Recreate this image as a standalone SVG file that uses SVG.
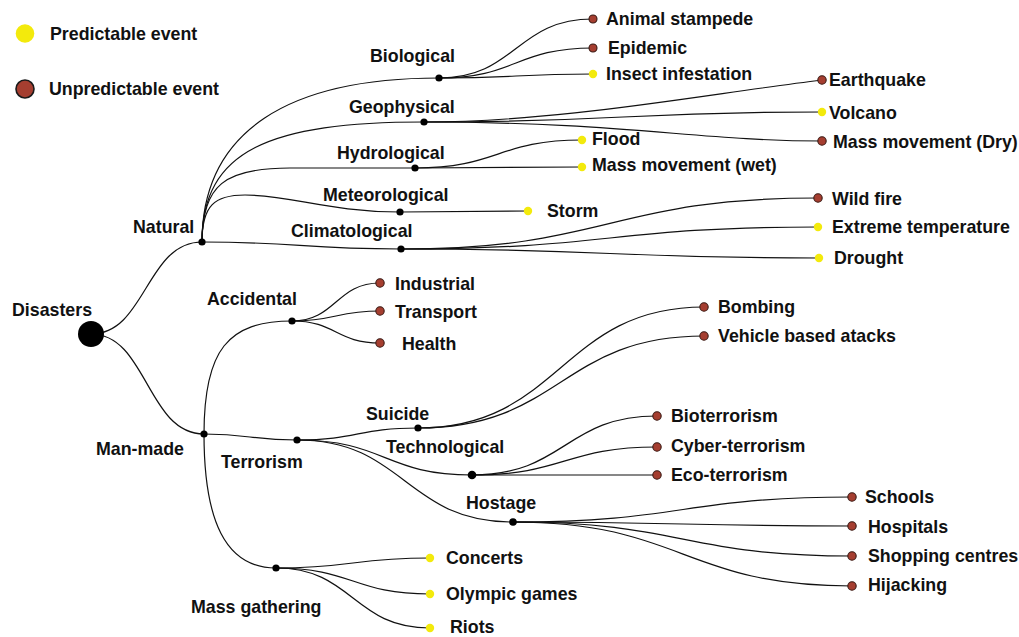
<svg xmlns="http://www.w3.org/2000/svg" width="1019" height="637" viewBox="0 0 1019 637">
<style>
.t{font-family:"Liberation Sans",Arial,sans-serif;font-weight:bold;font-size:17.8px;fill:#111}
.c{fill:none;stroke:#111;stroke-width:1.2}
.n{fill:#000}
.u{fill:#a53e30;stroke:#3a1a14;stroke-width:1.1}
.p{fill:#f3ea0c}
</style>
<rect width="1019" height="637" fill="#fff"/>
<g id="legend">
<circle cx="25" cy="33.5" r="9.3" class="p"/>
<text class="t" x="50" y="39.5">Predictable event</text>
<circle cx="25" cy="89" r="9" fill="#a53e30" stroke="#1a1a1a" stroke-width="1.6"/>
<text class="t" x="49" y="95">Unpredictable event</text>
</g>
<g id="connectors">
<path class="c" d="M91,334 C146,334 146,242 202,242"/>
<path class="c" d="M91,334 C147,334 147,434 204,434"/>
<path class="c" d="M202,242 C202,130 290,78 439,78"/>
<path class="c" d="M202,242 C202,150 270,122 424,122"/>
<path class="c" d="M202,242 C202,185 225,168 290,168 L415,168"/>
<path class="c" d="M202,242 C202,205 215,195 245,195 C290,195 330,212 400,212"/>
<path class="c" d="M202,242 C300,242 300,249 401,249"/>
<path class="c" d="M439,78 C516,78 516,19 593,19"/>
<path class="c" d="M439,78 C516,78 516,48 593,48"/>
<path class="c" d="M439,78 C516,78 516,74 593,74"/>
<path class="c" d="M424,122 C560,122 700,95 822,80"/>
<path class="c" d="M424,122 C623,122 623,112 822,112"/>
<path class="c" d="M424,122 C623,122 700,141 822,141"/>
<path class="c" d="M415,168 C498,168 498,140 582,140"/>
<path class="c" d="M415,168 L582,167"/>
<path class="c" d="M400,212 L528,211"/>
<path class="c" d="M401,249 C610,249 610,198 818,198"/>
<path class="c" d="M401,249 C610,249 610,227 818,227"/>
<path class="c" d="M401,249 C610,249 610,258 819,258"/>
<path class="c" d="M204,434 C204,350 228,321 292,321"/>
<path class="c" d="M204,434 C250,434 250,440 297,440"/>
<path class="c" d="M204,434 C204,520 225,568 276,568"/>
<path class="c" d="M292,321 C336,321 336,283 380,283"/>
<path class="c" d="M292,321 C336,321 336,311 380,311"/>
<path class="c" d="M292,321 C336,321 336,343 380,343"/>
<path class="c" d="M297,440 C358,440 358,428 418,428"/>
<path class="c" d="M297,440 C385,440 385,475 472,475"/>
<path class="c" d="M297,440 C405,440 405,522 513,522"/>
<path class="c" d="M418,428 C561,428 561,307 704,307"/>
<path class="c" d="M418,428 C561,428 561,336 704,336"/>
<path class="c" d="M472,475 C565,475 565,416 657,416"/>
<path class="c" d="M472,475 C565,475 565,447 657,447"/>
<path class="c" d="M472,475 L657,475"/>
<path class="c" d="M513,522 C683,522 683,497 852,497"/>
<path class="c" d="M513,522 C683,522 683,526 852,526"/>
<path class="c" d="M513,522 C683,522 683,556 852,556"/>
<path class="c" d="M513,522 C683,522 683,586 852,586"/>
<path class="c" d="M276,568 C353,568 353,558 430,558"/>
<path class="c" d="M276,568 C353,568 353,594 430,594"/>
<path class="c" d="M276,568 C353,568 353,628 430,628"/>
</g>
<g id="disasters"><circle cx="91" cy="334" r="13" class="n"/><text class="t" x="12" y="316">Disasters</text></g>
<g id="natural"><circle cx="202" cy="242" r="3.6" class="n"/><text class="t" x="133" y="233">Natural</text></g>
<g id="man-made"><circle cx="204" cy="434" r="3.6" class="n"/><text class="t" x="96" y="455">Man-made</text></g>
<g id="biological"><circle cx="439" cy="78" r="3.6" class="n"/><text class="t" x="370" y="62">Biological</text></g>
<g id="geophysical"><circle cx="424" cy="122" r="3.6" class="n"/><text class="t" x="349" y="113">Geophysical</text></g>
<g id="hydrological"><circle cx="415" cy="168" r="3.6" class="n"/><text class="t" x="337" y="159">Hydrological</text></g>
<g id="meteorological"><circle cx="400" cy="212" r="3.6" class="n"/><text class="t" x="323" y="200.5">Meteorological</text></g>
<g id="climatological"><circle cx="401" cy="249" r="3.6" class="n"/><text class="t" x="291" y="237">Climatological</text></g>
<g id="animal-stampede"><circle cx="593" cy="19" r="4" class="u"/><text class="t" x="606" y="25">Animal stampede</text></g>
<g id="epidemic"><circle cx="593" cy="48" r="4" class="u"/><text class="t" x="608" y="53.5">Epidemic</text></g>
<g id="insect-infestation"><circle cx="593" cy="74" r="4.2" class="p"/><text class="t" x="606" y="80">Insect infestation</text></g>
<g id="earthquake"><circle cx="822" cy="80" r="4.2" class="u"/><text class="t" x="829" y="86">Earthquake</text></g>
<g id="volcano"><circle cx="822" cy="112" r="4.2" class="p"/><text class="t" x="829" y="119">Volcano</text></g>
<g id="mass-movement-dry"><circle cx="822" cy="141" r="4.2" class="u"/><text class="t" x="833" y="147.5">Mass movement (Dry)</text></g>
<g id="flood"><circle cx="582" cy="140" r="4.2" class="p"/><text class="t" x="592" y="145">Flood</text></g>
<g id="mass-movement-wet"><circle cx="582" cy="167" r="4.2" class="p"/><text class="t" x="592" y="171">Mass movement (wet)</text></g>
<g id="storm"><circle cx="528" cy="211" r="4.2" class="p"/><text class="t" x="547" y="217">Storm</text></g>
<g id="wild-fire"><circle cx="818" cy="198" r="4.2" class="u"/><text class="t" x="832" y="205">Wild fire</text></g>
<g id="extreme-temperature"><circle cx="818" cy="227" r="4.2" class="p"/><text class="t" x="832" y="233">Extreme temperature</text></g>
<g id="drought"><circle cx="819" cy="258" r="4.2" class="p"/><text class="t" x="834" y="264">Drought</text></g>
<g id="accidental"><circle cx="292" cy="321" r="3.6" class="n"/><text class="t" x="207" y="305">Accidental</text></g>
<g id="industrial"><circle cx="380" cy="283" r="4.2" class="u"/><text class="t" x="395" y="290">Industrial</text></g>
<g id="transport"><circle cx="380" cy="311" r="4.2" class="u"/><text class="t" x="395" y="317.5">Transport</text></g>
<g id="health"><circle cx="380" cy="343" r="4.2" class="u"/><text class="t" x="402" y="349.5">Health</text></g>
<g id="terrorism"><circle cx="297" cy="440" r="3.6" class="n"/><text class="t" x="221" y="467.5">Terrorism</text></g>
<g id="suicide"><circle cx="418" cy="428" r="3.6" class="n"/><text class="t" x="366" y="420">Suicide</text></g>
<g id="bombing"><circle cx="704" cy="307" r="4.2" class="u"/><text class="t" x="718" y="313">Bombing</text></g>
<g id="vehicle"><circle cx="704" cy="336" r="4.2" class="u"/><text class="t" x="718" y="342">Vehicle based atacks</text></g>
<g id="technological"><circle cx="472" cy="475" r="4.3" class="n"/><text class="t" x="386" y="452.5">Technological</text></g>
<g id="bioterrorism"><circle cx="657" cy="416" r="4.2" class="u"/><text class="t" x="671" y="422">Bioterrorism</text></g>
<g id="cyber-terrorism"><circle cx="657" cy="447" r="4.2" class="u"/><text class="t" x="671" y="452">Cyber-terrorism</text></g>
<g id="eco-terrorism"><circle cx="657" cy="475" r="4.2" class="u"/><text class="t" x="671" y="481">Eco-terrorism</text></g>
<g id="hostage"><circle cx="513" cy="522" r="3.8" class="n"/><text class="t" x="466" y="508.5">Hostage</text></g>
<g id="schools"><circle cx="852" cy="497" r="4.2" class="u"/><text class="t" x="865" y="503">Schools</text></g>
<g id="hospitals"><circle cx="852" cy="526" r="4.2" class="u"/><text class="t" x="868" y="532.5">Hospitals</text></g>
<g id="shopping-centres"><circle cx="852" cy="556" r="4.2" class="u"/><text class="t" x="868" y="561.5">Shopping centres</text></g>
<g id="hijacking"><circle cx="852" cy="586" r="4.2" class="u"/><text class="t" x="868" y="591">Hijacking</text></g>
<g id="mass-gathering"><circle cx="276" cy="568" r="3.6" class="n"/><text class="t" x="191" y="612.5">Mass gathering</text></g>
<g id="concerts"><circle cx="430" cy="558" r="4.2" class="p"/><text class="t" x="446" y="564">Concerts</text></g>
<g id="olympic-games"><circle cx="430" cy="594" r="4.2" class="p"/><text class="t" x="446" y="600">Olympic games</text></g>
<g id="riots"><circle cx="430" cy="628" r="4.2" class="p"/><text class="t" x="450" y="633">Riots</text></g>
</svg>
